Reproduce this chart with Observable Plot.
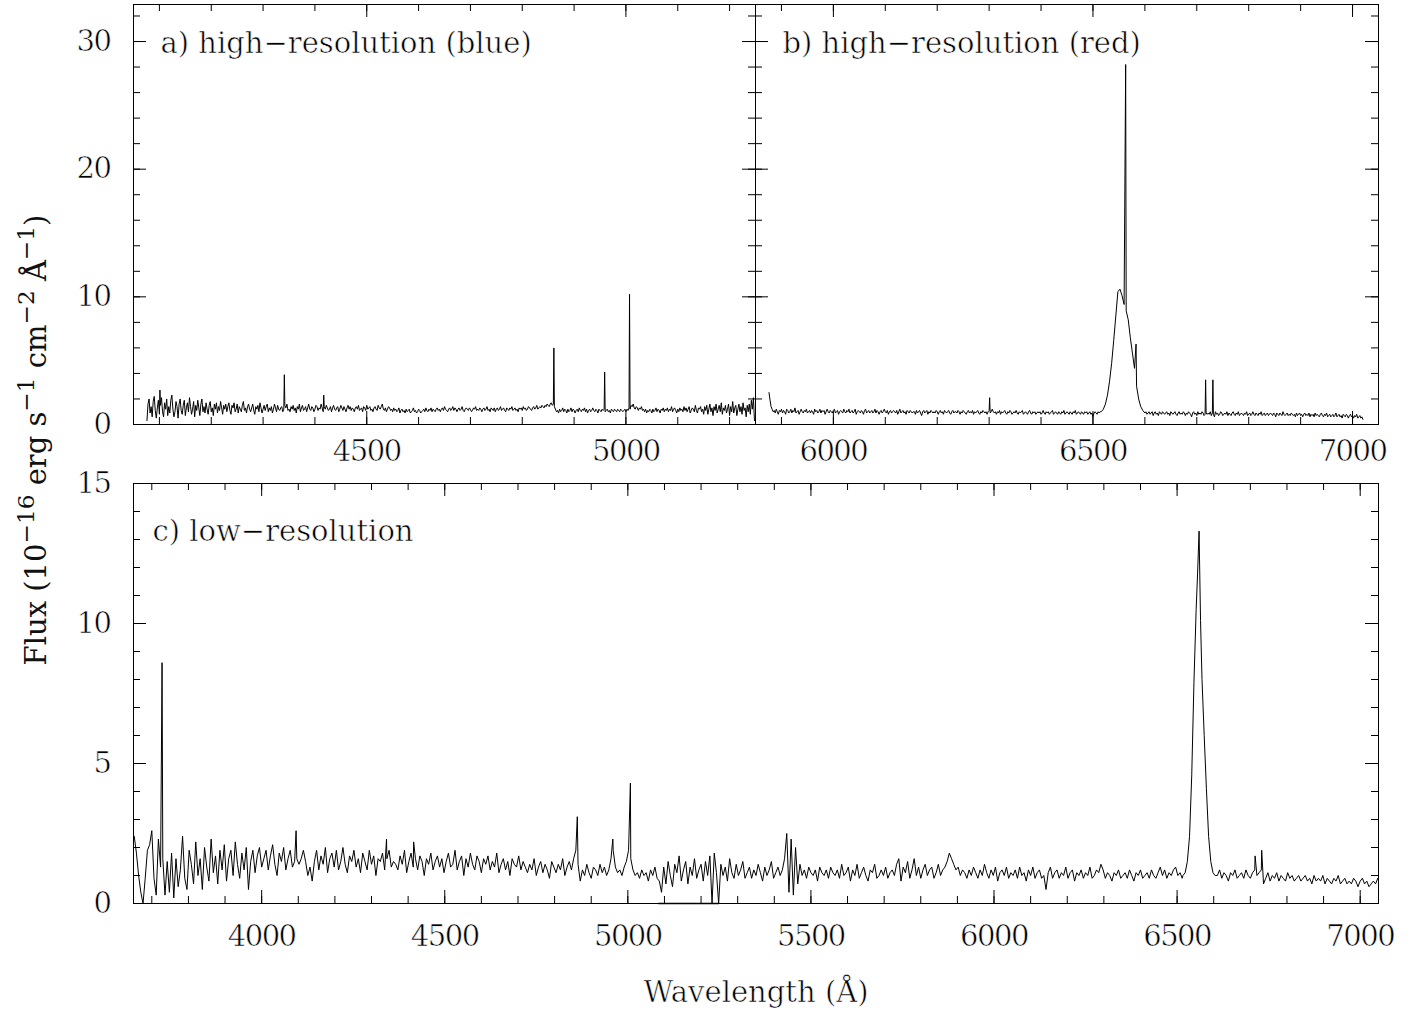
<!DOCTYPE html>
<html><head><meta charset="utf-8">
<script src="https://cdn.jsdelivr.net/npm/d3@7"></script>
<script src="https://cdn.jsdelivr.net/npm/@observablehq/plot@0.6"></script>
<style>
html,body{margin:0;padding:0;background:#fff;}
#fig{position:relative;width:1415px;height:1015px;background:#fff;overflow:hidden;}
#fig .cell{position:absolute;}
#fig text{stroke:#fff;stroke-width:0.6px;paint-order:fill;}
#fig text.ytitle, #fig text.ytitle tspan{stroke:none;fill:#111;}
#fig g.num text{letter-spacing:-1.5px;}
</style></head><body><div id="fig"></div>
<script>
// ---------------- DATA ----------------
// a) high-resolution (blue): continuum on a 2 Å grid + narrow emission lines
const blueStart = 4076, blueStep = 2;
const blueFlux = [
0.3,1.6,2.0,0.9,1.4,0.6,1.8,2.2,1.1,0.5,1.3,1.9,0.8,1.5,2.1,1.0,0.6,1.7,1.2,2.0,
0.7,1.4,0.9,1.9,2.3,1.2,0.6,1.0,1.8,1.4,0.5,1.6,2.0,1.1,0.8,1.5,1.9,0.7,1.3,1.7,
1.0,2.1,1.4,0.8,1.2,1.8,0.6,1.5,1.1,1.9,1.3,0.7,1.6,2.0,1.0,1.4,0.9,1.7,1.2,0.8,
1.5,1.8,1.0,1.3,0.7,1.6,1.2,1.7,0.9,1.4,1.1,1.8,1.3,0.8,1.5,1.2,1.6,1.0,1.4,1.7,
1.1,0.8,1.5,1.3,1.7,1.0,1.2,1.6,0.9,1.4,1.2,1.0,1.5,1.8,1.1,1.3,0.9,1.4,1.6,1.2,
1.0,1.3,1.6,1.1,0.8,1.4,1.2,1.5,1.0,1.7,1.3,0.9,1.2,1.5,1.1,1.4,1.6,1.0,1.3,1.1,
1.4,0.9,1.2,1.6,1.3,1.0,1.5,1.2,1.1,1.3,1.4,1.0,1.2,1.5,1.3,1.6,1.1,1.2,1.0,1.4,
1.2,1.5,1.1,1.3,0.9,1.4,1.2,1.6,1.0,1.3,1.5,1.1,1.2,1.4,1.0,1.3,1.6,1.2,1.1,1.4,
1.3,1.0,1.2,1.5,1.4,1.1,1.3,1.2,1.6,1.3,1.0,1.4,1.2,1.5,1.3,1.1,1.2,1.4,1.0,1.3,
1.5,1.2,1.1,1.3,1.4,1.0,1.2,1.5,1.3,1.1,1.4,1.2,1.0,1.3,1.5,1.2,1.4,1.1,1.3,1.2,
1.0,1.3,1.4,1.2,1.5,1.1,1.2,1.3,1.0,1.4,1.3,1.1,1.5,1.2,1.3,1.4,1.1,1.2,1.0,1.3,
1.4,1.2,1.1,1.5,1.3,1.2,1.4,1.6,1.2,1.1,1.3,1.0,1.2,1.4,1.3,1.1,1.2,1.0,1.3,1.1,
1.2,1.0,1.1,1.3,0.9,1.1,1.2,1.0,1.1,0.9,1.2,1.0,1.1,1.2,0.9,1.0,1.1,1.3,1.0,1.1,
0.9,1.0,1.2,1.1,0.9,1.0,1.1,1.2,1.0,1.3,1.1,1.0,1.2,1.1,1.3,1.0,1.2,1.1,1.0,1.2,
1.3,1.1,1.2,1.0,1.2,1.3,1.1,1.4,1.2,1.1,1.0,1.2,1.3,1.1,1.2,1.4,1.1,1.3,1.2,1.0,
1.2,1.3,1.1,1.2,1.4,1.1,1.0,1.2,1.3,1.2,1.1,1.3,1.2,1.0,1.1,1.3,1.2,1.4,1.1,1.2,
1.1,1.3,1.2,1.0,1.2,1.3,1.1,1.2,1.4,1.1,1.2,1.0,1.3,1.2,1.1,1.3,1.0,1.2,1.3,1.1,
1.2,1.4,1.1,1.2,1.3,1.1,1.0,1.3,1.2,1.1,1.3,1.2,1.4,1.1,1.2,1.3,1.1,1.2,1.0,1.3,
1.2,1.3,1.1,1.4,1.2,1.3,1.1,1.2,1.4,1.3,1.2,1.1,1.3,1.4,1.2,1.3,1.5,1.2,1.3,1.4,
1.3,1.5,1.4,1.3,1.5,1.4,1.6,1.5,1.4,1.6,1.7,1.5,1.6,1.4,1.2,1.0,1.1,0.9,1.2,1.0,
1.1,1.3,1.0,1.2,1.1,0.9,1.2,1.0,1.1,1.3,1.0,1.2,1.1,0.9,1.1,1.2,1.0,1.3,1.1,1.0,
1.2,1.1,1.3,1.0,1.2,0.9,1.1,1.2,1.0,1.1,1.3,1.1,1.0,1.2,1.1,0.9,1.2,1.1,1.0,1.2,
1.1,1.2,1.0,1.1,1.2,1.0,1.1,0.9,1.2,1.1,1.0,1.2,1.1,1.0,1.2,1.1,1.0,1.2,1.1,1.0,
1.1,1.2,1.0,1.2,1.1,1.3,1.2,1.5,1.4,1.6,1.3,1.2,1.4,1.3,1.1,1.3,1.2,1.4,1.1,1.2,
1.0,1.2,0.9,1.1,1.0,1.2,1.1,0.9,1.2,1.0,1.1,1.3,1.0,1.2,1.1,0.9,1.2,1.1,1.3,1.0,
1.2,1.1,1.3,1.0,1.2,1.1,1.4,1.0,1.2,1.3,1.1,0.9,1.2,1.0,1.3,1.1,1.2,1.0,1.4,1.1,
1.3,1.0,1.2,1.4,0.9,1.1,1.3,1.2,1.0,1.5,1.1,0.9,1.3,1.2,1.4,1.0,1.2,0.8,1.4,1.1,
1.5,0.8,1.2,1.6,1.0,1.3,0.7,1.4,1.1,1.6,0.9,1.2,1.5,1.0,1.7,0.8,1.3,1.1,1.5,0.9,
1.2,1.6,0.7,1.4,1.0,1.8,0.9,1.3,1.5,0.7,1.2,1.6,1.0,1.4,0.8,1.7,1.1,1.3,0.6,1.5,
1.0,1.6,0.8,1.9,1.2,2.1,0.3
];
const blueLineWave = [4101, 4341, 4417, 4861, 4959, 5007];
const blueLinePeak = [2.7, 3.9, 2.3, 6.0, 4.1, 10.2];

// b) high-resolution (red): 2 Å continuum either side of the broad H-alpha profile + narrow lines
const redStartA = 5876, redStep = 2;
const redFluxA = [
2.5,1.9,1.4,1.2,1.0,1.1,0.9,1.2,1.0,0.8,1.1,1.0,1.2,0.9,1.1,1.0,0.8,1.2,1.1,0.9,
1.0,1.2,0.9,1.1,1.0,1.3,0.9,1.0,1.1,0.8,1.0,1.2,1.0,0.9,1.1,1.0,1.2,0.9,1.0,1.1,
0.9,1.1,1.0,0.8,1.2,1.0,1.1,0.9,1.0,1.2,0.9,1.1,1.0,1.1,0.8,1.0,1.2,1.0,0.9,1.1,
1.0,0.9,1.1,1.2,0.9,1.0,1.1,0.8,1.0,1.1,1.0,0.9,1.2,1.0,0.9,1.1,1.0,1.2,0.9,1.0,
1.1,0.9,1.0,1.2,0.8,1.0,1.1,1.0,0.9,1.1,1.0,0.8,1.1,1.2,0.9,1.0,1.1,0.9,1.0,1.1,
0.9,1.0,1.2,0.9,1.1,1.0,0.8,1.0,1.1,0.9,1.0,1.2,1.0,0.9,1.1,0.8,1.0,1.1,0.9,1.0,
1.1,1.0,0.9,1.1,0.8,1.0,1.2,0.9,1.0,1.1,0.9,1.0,0.8,1.1,1.0,0.9,1.1,1.0,0.9,1.0,
1.0,0.8,1.1,0.9,1.0,1.1,0.9,0.7,1.0,1.1,0.9,1.0,1.1,0.8,1.0,0.9,1.1,1.0,0.9,1.0,
0.9,1.1,1.0,0.8,1.0,1.1,0.9,1.0,0.8,1.1,1.0,0.9,1.0,1.1,0.9,0.8,1.0,1.1,0.9,1.0,
1.0,0.9,1.1,1.0,0.8,1.0,0.9,1.1,1.0,0.9,0.8,1.0,1.1,0.9,1.0,0.9,1.1,0.8,1.0,0.9,
1.0,1.1,0.9,0.8,1.0,0.9,1.1,1.0,0.9,1.0,0.8,1.0,1.1,0.9,1.0,1.2,1.0,0.9,1.0,0.8,
1.0,0.9,1.1,0.8,1.0,0.9,1.0,1.1,0.9,0.8,1.0,0.9,1.1,1.0,0.8,0.9,1.0,0.9,1.1,0.9,
0.8,1.0,0.9,1.0,1.1,0.8,0.9,1.0,0.9,0.8,1.0,1.1,0.9,0.8,1.0,0.9,1.0,0.8,0.9,1.0,
0.9,1.0,0.8,0.9,1.1,0.9,0.8,1.0,0.9,1.0,0.8,0.9,1.0,1.1,0.8,0.9,1.0,0.9,0.8,1.0,
0.9,0.8,1.0,0.9,1.1,0.8,0.9,1.0,0.9,0.8,1.0,0.9,0.8,1.0,0.9,1.1,0.8,0.9,1.0,0.9,
0.8,1.0,0.9,0.8,1.0,0.9,1.0,0.8,0.9,1.0,0.8,0.9,0.6,0.9,1.0,0.9,0.8,1.0,0.9,1.0
];
const redHaWave = [6516,6520,6524,6528,6532,6536,6540,6544,6548,6552,6556,6560,6564,6568,6572,6576,6580,6584,6588,6592,6596,6600];
const redHaFlux = [1.0,1.2,1.6,2.3,3.4,4.8,6.6,8.5,10.4,10.6,10.1,9.4,8.9,8.2,6.8,5.6,4.4,3.0,2.0,1.4,1.1,0.9];
const redStartB = 6602;
const redFluxB = [
1.0,0.8,0.9,1.0,0.8,0.9,1.0,0.7,0.9,1.0,0.8,0.9,0.7,1.0,0.9,0.8,1.0,0.9,0.8,0.9,
1.0,0.8,0.9,0.7,1.0,0.9,0.8,0.9,1.0,0.8,0.7,0.9,1.0,0.8,0.9,0.8,1.0,0.9,0.7,0.9,
0.8,1.0,0.9,0.8,0.6,0.9,1.0,0.8,0.9,0.7,1.0,0.8,0.9,0.8,1.0,0.9,0.7,0.8,0.9,0.8,
0.9,0.8,1.0,0.7,0.9,0.8,0.6,1.0,0.8,0.9,0.7,0.8,1.0,0.9,0.7,0.8,0.9,0.8,1.0,0.7,
0.9,0.8,0.7,0.9,1.0,0.8,0.7,0.9,0.8,1.0,0.7,0.8,0.9,0.8,0.7,0.9,0.8,1.0,0.7,0.8,
0.9,0.7,0.8,1.0,0.8,0.7,0.9,0.8,0.7,0.9,0.8,1.0,0.7,0.8,0.9,0.7,0.8,0.9,0.7,0.8,
0.9,0.8,0.7,0.9,0.8,0.6,0.9,0.8,0.7,0.9,0.8,0.7,1.0,0.8,0.7,0.8,0.9,0.7,0.8,0.7,
0.9,0.8,0.7,0.8,0.6,0.9,0.7,0.8,0.9,0.7,0.8,0.6,0.8,0.9,0.7,0.8,0.7,0.9,0.6,0.8,
0.7,0.8,0.6,0.9,0.7,0.8,0.7,0.6,0.8,0.9,0.7,0.6,0.8,0.7,0.9,0.6,0.7,0.8,0.6,0.7,
0.8,0.6,0.7,0.9,0.6,0.7,0.8,0.6,0.7,0.5,0.8,0.7,0.6,0.8,0.7,0.5,0.7,0.8,0.6,0.7,
0.5,0.7,0.6,0.8,0.5,0.6,0.7,0.5,0.6,0.4
];
const redLineWave = [6301, 6563, 6583, 6717, 6731];
const redLinePeak = [2.1, 28.2, 6.3, 3.5, 3.5];

// c) low-resolution: blue side of H-alpha, H-alpha profile, red side (6 Å grid)
const lowStartA = 3652, lowStep = 6;
const lowFluxA = [
2.4,1.8,1.0,0.4,0.0,0.9,1.9,2.1,2.6,0.9,0.3,2.3,1.3,1.6,0.3,1.5,0.4,1.8,0.2,1.6,
0.6,1.2,2.4,0.9,0.5,1.9,1.4,0.7,2.2,1.0,1.6,0.5,2.0,1.3,0.8,2.3,1.1,1.7,0.7,1.9,
1.2,2.1,0.8,1.6,1.9,1.0,2.2,1.4,0.9,1.8,1.2,2.0,0.5,1.5,1.9,1.1,1.7,2.0,1.3,1.6,
1.9,1.2,1.7,2.1,1.4,1.0,1.8,1.5,2.0,1.2,1.6,1.9,1.3,1.5,1.6,1.4,1.6,1.9,1.5,1.0,
1.3,0.8,1.5,1.9,1.2,1.7,1.4,2.0,1.1,1.6,1.8,1.3,1.9,1.2,1.5,2.0,1.4,1.1,1.7,1.5,
1.9,1.3,1.6,1.1,1.8,1.5,1.2,1.9,1.4,1.7,1.0,1.6,1.5,1.8,1.2,1.6,1.9,1.3,1.5,1.4,
1.2,1.7,1.4,1.9,1.1,1.5,1.8,1.3,1.6,1.2,1.7,1.5,1.0,1.6,1.4,1.8,1.2,1.5,1.7,1.3,
1.6,1.1,1.5,1.8,1.3,1.4,1.9,1.2,1.5,1.7,1.0,1.6,1.3,1.8,1.4,1.2,1.7,1.5,1.1,1.6,
1.4,1.7,1.2,1.5,1.3,1.8,1.1,1.4,1.6,1.2,1.5,1.0,1.6,1.4,1.3,1.7,1.2,1.5,1.3,1.1,
1.4,1.2,1.6,1.0,1.3,1.5,1.1,1.4,1.2,0.9,1.5,1.3,1.1,1.4,1.2,1.6,1.0,1.3,1.5,1.2,
1.6,1.9,1.4,0.8,1.2,1.0,1.4,1.1,0.9,1.3,1.2,1.0,1.4,1.1,1.3,1.0,1.2,1.6,1.9,1.3,
1.1,1.2,1.0,1.3,1.5,1.9,1.6,1.2,1.0,1.1,0.9,1.2,1.0,1.1,0.8,1.2,1.0,1.3,0.9,0.8,
0.4,1.3,0.7,1.5,1.0,0.6,1.4,1.1,1.7,0.8,1.2,1.5,0.7,1.3,1.0,1.6,0.9,1.2,1.4,0.8,
1.5,1.0,1.7,0.0,1.8,1.1,0.0,1.4,1.0,1.3,0.8,1.6,1.1,0.9,1.4,1.0,1.2,1.5,0.9,1.1,
1.3,0.9,1.2,1.0,1.4,1.1,0.8,1.3,1.0,1.2,1.5,0.9,1.1,1.3,1.0,1.2,1.6,2.5,0.4,2.3,
0.3,2.0,0.7,1.4,1.0,1.2,0.9,1.3,1.1,1.0,1.2,0.8,1.3,1.1,1.0,1.2,0.9,1.3,1.1,1.0,
1.2,0.9,1.4,1.0,1.1,1.3,0.8,1.2,1.0,1.4,0.9,1.1,1.3,1.0,0.8,1.2,1.1,1.4,0.9,1.0,
1.2,1.0,1.3,0.9,1.1,1.2,1.0,1.4,1.6,0.8,1.3,1.1,1.5,0.9,1.2,1.6,1.0,1.3,0.9,1.2,
1.4,1.0,1.2,1.3,0.9,1.1,1.4,1.0,1.2,1.3,1.5,1.8,1.6,1.4,1.2,1.3,1.0,1.2,1.1,0.9,
1.2,1.0,1.3,1.1,0.9,1.2,1.0,1.4,1.1,0.9,1.2,1.0,1.3,0.8,1.1,1.2,1.0,1.3,0.9,1.1,
1.0,1.2,0.9,1.3,1.0,1.1,0.8,1.2,1.0,1.3,0.9,1.1,1.2,0.9,1.0,0.5,1.1,1.3,0.9,1.1,
1.2,0.9,1.1,1.0,1.3,0.9,1.1,1.2,0.8,1.1,1.0,1.2,0.9,1.1,1.0,1.3,0.9,1.0,1.2,1.1,
1.4,1.2,0.9,1.1,1.0,0.8,1.1,1.0,1.2,0.9,1.0,1.1,0.9,1.2,1.0,0.8,1.1,1.0,1.2,0.9,
1.0,1.1,0.9,1.2,1.0,0.9,1.1,1.3,1.0,1.2,0.9,1.1,1.0,1.2,1.3,1.0,1.1,0.9
];
const lowHaWave = [6516,6522,6528,6534,6540,6546,6552,6556,6560,6564,6568,6574,6580,6586,6592,6598,6604];
const lowHaFlux = [1.0,1.1,1.5,2.4,4.6,7.9,10.5,11.8,13.3,10.1,8.0,6.0,4.1,2.4,1.5,1.1,1.0];
const lowStartB = 6610;
const lowFluxB = [
1.0,1.2,0.9,1.1,1.0,0.8,1.1,1.0,1.2,0.9,1.0,1.1,0.9,1.2,1.0,0.9,1.1,1.2,1.0,1.1,
1.2,0.7,0.9,1.1,0.8,1.0,0.9,1.1,0.8,1.0,0.9,0.8,1.1,0.9,1.0,0.8,0.9,1.0,0.8,0.9,
1.0,0.8,0.9,0.7,1.0,0.8,0.9,0.8,1.0,0.7,0.9,0.8,0.7,0.9,0.8,1.0,0.7,0.8,0.9,0.7,
0.8,0.7,0.9,0.8,0.6,0.8,0.9,0.7,0.8,0.6,0.7,0.8,0.7,0.9
];
const lowLineWave = [3728, 4094, 4341, 4415, 4862, 4959, 5007, 6713, 6731];
const lowLinePeak = [8.6, 2.6, 2.3, 2.2, 3.1, 2.3, 4.3, 1.7, 1.9];
// zero-flux stretch at the blue end of the arm overlap
const lowTailWave = [5084, 5248];
const lowTailFlux = [0, 0];

// axes
const aXDomain = [4050, 5250], bXDomain = [5850, 7050], cXDomain = [3650, 7050];
const abYDomain = [0, 32.9], cYDomain = [0, 15];
const aXMajor = [4500, 5000];
const bXMajor = [6000, 6500, 7000];
const cXMajor = [4000, 4500, 5000, 5500, 6000, 6500, 7000];
const abYMajor = [0, 10, 20, 30];
const cYMajor = [0, 5, 10, 15];
const aXMinor = d3.range(4100, 5201, 100);
const bXMinor = d3.range(5900, 7001, 100);
const cXMinor = d3.range(3700, 7001, 100);
const abYMinor = d3.range(0, 33, 2);
const cYMinor = d3.range(0, 16, 1);

const labelA = "a) high\u2212resolution (blue)";
const labelB = "b) high\u2212resolution (red)";
const labelC = "c) low\u2212resolution";
const xTitle = "Wavelength (\u00C5)";
const yTitleParts = [["Flux (10",0],["\u221216",1],[" erg s",0],["\u22121",1],[" cm",0],["\u22122",1],[" \u00C5",0],["\u22121",1],[")",0]];

// ---------------- HELPERS ----------------
const FONT = "DejaVu Serif", FS = 29, MAJ = 13, MIN = 7;
function grid(start, step, values) { return values.map((f, i) => ({w: start + i * step, f})); }
function pairs(ws, fs) { return ws.map((w, i) => ({w, f: fs[i]})); }
function sorted(...parts) { return parts.flat().sort((a, b) => a.w - b.w); }
function ticks(xMinor, xMajor, yMinor, yMajor, W, H) {
  const s = {stroke: "black", strokeWidth: 1};
  return [
    Plot.tickX(xMinor, {x: d => d, insetTop: H - MIN, ...s}),
    Plot.tickX(xMinor, {x: d => d, insetBottom: H - MIN, ...s}),
    Plot.tickX(xMajor, {x: d => d, insetTop: H - MAJ, ...s}),
    Plot.tickX(xMajor, {x: d => d, insetBottom: H - MAJ, ...s}),
    Plot.tickY(yMinor, {y: d => d, insetRight: W - MIN, ...s}),
    Plot.tickY(yMinor, {y: d => d, insetLeft: W - MIN, ...s}),
    Plot.tickY(yMajor, {y: d => d, insetRight: W - MAJ, ...s}),
    Plot.tickY(yMajor, {y: d => d, insetLeft: W - MAJ, ...s})
  ];
}
const txt = {fontFamily: FONT, fontSize: FS, fill: "black"};
const style = {background: "transparent", overflow: "visible"};
const LW = 1;
const fig = document.getElementById("fig");
function place(node, left, top) {
  const d = document.createElement("div");
  d.className = "cell"; d.style.left = left + "px"; d.style.top = top + "px";
  d.appendChild(node); fig.appendChild(d);
}

// ---------------- PANEL A ----------------
const aData = sorted(grid(blueStart, blueStep, blueFlux), pairs(blueLineWave, blueLinePeak));
const pa = Plot.plot({
  width: 755, height: 474, marginLeft: 133, marginRight: 0, marginTop: 4, marginBottom: 50,
  style, x: {domain: aXDomain, axis: null}, y: {domain: abYDomain, axis: null},
  marks: [
    Plot.frame({stroke: "black", strokeWidth: 1}),
    ...ticks(aXMinor, aXMajor, abYMinor, abYMajor, 622, 420),
    Plot.line(aData, {x: "w", y: "f", stroke: "black", strokeWidth: LW}),
    Plot.text(aXMajor, {x: d => d, text: d => String(d), frameAnchor: "bottom", dy: 16, lineAnchor: "top", className: "num", ...txt}),
    Plot.text(abYMajor, {y: d => d, text: d => String(d), frameAnchor: "left", dx: -23, textAnchor: "end", lineAnchor: "middle", className: "num", ...txt}),
    Plot.text([labelA], {text: d => d, frameAnchor: "top-left", dx: 27, dy: 48, textAnchor: "start", lineAnchor: "bottom", ...txt})
  ]
});
place(pa, 0, 0);

// ---------------- PANEL B ----------------
const bData = sorted(grid(redStartA, redStep, redFluxA), pairs(redHaWave, redHaFlux),
                     grid(redStartB, redStep, redFluxB), pairs(redLineWave, redLinePeak));
const pb = Plot.plot({
  width: 660, height: 474, marginLeft: 0, marginRight: 37, marginTop: 4, marginBottom: 50,
  style, x: {domain: bXDomain, axis: null}, y: {domain: abYDomain, axis: null},
  marks: [
    Plot.frame({stroke: "black", strokeWidth: 1}),
    ...ticks(bXMinor, bXMajor, abYMinor, abYMajor, 623, 420),
    Plot.line(bData, {x: "w", y: "f", stroke: "black", strokeWidth: LW}),
    Plot.text(bXMajor, {x: d => d, text: d => String(d), frameAnchor: "bottom", dy: 16, lineAnchor: "top", className: "num", ...txt}),
    Plot.text([labelB], {text: d => d, frameAnchor: "top-left", dx: 27, dy: 48, textAnchor: "start", lineAnchor: "bottom", ...txt})
  ]
});
place(pb, 755, 0);

// ---------------- PANEL C ----------------
const cData = sorted(grid(lowStartA, lowStep, lowFluxA), pairs(lowHaWave, lowHaFlux),
                     grid(lowStartB, lowStep, lowFluxB), pairs(lowLineWave, lowLinePeak));
const cTail = pairs(lowTailWave, lowTailFlux);
const pc = Plot.plot({
  width: 1415, height: 541, marginLeft: 133, marginRight: 37, marginTop: 9, marginBottom: 112,
  style, x: {domain: cXDomain, axis: null}, y: {domain: cYDomain, axis: null},
  marks: [
    Plot.frame({stroke: "black", strokeWidth: 1}),
    ...ticks(cXMinor, cXMajor, cYMinor, cYMajor, 1245, 420),
    Plot.line(cTail, {x: "w", y: "f", stroke: "black", strokeWidth: 1.6}),
    Plot.line(cData, {x: "w", y: "f", stroke: "black", strokeWidth: LW, clip: true}),
    Plot.text(cXMajor, {x: d => d, text: d => String(d), frameAnchor: "bottom", dy: 22, lineAnchor: "top", className: "num", ...txt}),
    Plot.text(cYMajor, {y: d => d, text: d => String(d), frameAnchor: "left", dx: -23, textAnchor: "end", lineAnchor: "middle", className: "num", ...txt}),
    Plot.text([labelC], {text: d => d, frameAnchor: "top-left", dx: 19, dy: 57, textAnchor: "start", lineAnchor: "bottom", ...txt}),
    Plot.text([xTitle], {text: d => d, frameAnchor: "bottom", dy: 98, lineAnchor: "bottom", ...txt})
  ]
});
place(pc, 0, 474);

// ---------------- Y TITLE ----------------
const ys = d3.create("svg").attr("width", 90).attr("height", 1015).style("overflow", "visible");
const t = ys.append("text")
  .attr("class", "ytitle")
  .attr("transform", "translate(46,440) rotate(-90)")
  .attr("text-anchor", "middle")
  .attr("font-family", FONT).attr("font-size", FS).attr("fill", "black")
  .style("white-space", "pre");
let shifted = false;
const RAISE = 12;
for (const [s, sup] of yTitleParts) {
  const sp = t.append("tspan").text(s);
  if (sup && !shifted) { sp.attr("dy", -RAISE).attr("font-size", FS * 0.8); shifted = true; }
  else if (sup) { sp.attr("font-size", FS * 0.8); }
  else if (shifted) { sp.attr("dy", RAISE); shifted = false; }
}
place(ys.node(), 0, 0);
</script></body></html>
